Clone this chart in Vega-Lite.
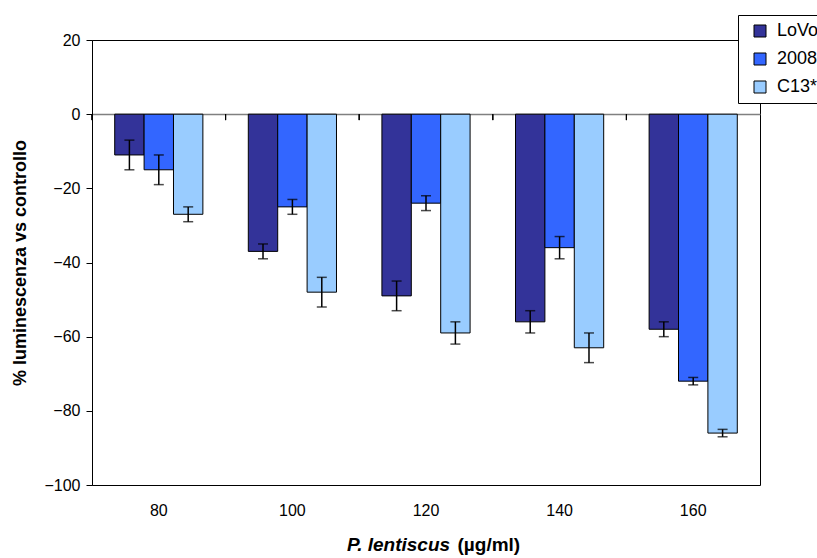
{
  "$schema": "https://vega.github.io/schema/vega-lite/v6.json",
  "width": 668,
  "height": 445,
  "autosize": {"type": "none"},
  "padding": {"left": 92, "top": 40, "right": 57, "bottom": 73},
  "background": "white",
  "config": {
    "font": "Liberation Sans",
    "view": {"stroke": "#000000", "strokeWidth": 1},
    "axis": {"grid": false, "labelColor": "#000000", "titleColor": "#000000"}
  },
  "data": {
    "values": [
      {"conc": 80, "line": "LoVo", "mean": -11, "lo": -15, "hi": -7},
      {"conc": 80, "line": "2008", "mean": -15, "lo": -19, "hi": -11},
      {"conc": 80, "line": "C13*", "mean": -27, "lo": -29, "hi": -25},
      {"conc": 100, "line": "LoVo", "mean": -37, "lo": -39, "hi": -35},
      {"conc": 100, "line": "2008", "mean": -25, "lo": -27, "hi": -23},
      {"conc": 100, "line": "C13*", "mean": -48, "lo": -52, "hi": -44},
      {"conc": 120, "line": "LoVo", "mean": -49, "lo": -53, "hi": -45},
      {"conc": 120, "line": "2008", "mean": -24, "lo": -26, "hi": -22},
      {"conc": 120, "line": "C13*", "mean": -59, "lo": -62, "hi": -56},
      {"conc": 140, "line": "LoVo", "mean": -56, "lo": -59, "hi": -53},
      {"conc": 140, "line": "2008", "mean": -36, "lo": -39, "hi": -33},
      {"conc": 140, "line": "C13*", "mean": -63, "lo": -67, "hi": -59},
      {"conc": 160, "line": "LoVo", "mean": -58, "lo": -60, "hi": -56},
      {"conc": 160, "line": "2008", "mean": -72, "lo": -73, "hi": -71},
      {"conc": 160, "line": "C13*", "mean": -86, "lo": -87, "hi": -85}
    ]
  },
  "resolve": {"axis": {"x": "independent"}},
  "layer": [
    {
      "mark": {"type": "bar", "stroke": "#000000", "strokeWidth": 1},
      "encoding": {
        "x": {
          "field": "conc", "type": "ordinal",
          "scale": {"paddingInner": 0.34, "paddingOuter": 0.17},
          "axis": {
            "orient": "bottom", "ticks": false, "domain": false,
            "labelFontSize": 16, "labelPadding": 17, "labelAngle": 0,
            "title": "P. lentiscus", "titleFontSize": 19, "titleFontWeight": "bold",
            "titleFontStyle": "italic", "titleAlign": "center", "titleBaseline": "alphabetic",
            "titleAnchor": null, "titleX": 306, "titleY": 65
          }
        },
        "xOffset": {"field": "line", "type": "nominal", "sort": ["LoVo", "2008", "C13*"], "scale": {"paddingInner": 0, "paddingOuter": 0}},
        "y": {
          "field": "mean", "type": "quantitative",
          "scale": {"domain": [-100, 20], "nice": false, "zero": false},
          "axis": {
            "values": [-100, -80, -60, -40, -20, 0, 20],
            "domainColor": "#000000", "domainWidth": 1,
            "tickColor": "#000000", "tickSize": 6, "tickWidth": 1,
            "labelFontSize": 16, "labelPadding": 6,
            "title": "% luminescenza vs controllo", "titleFontSize": 18,
            "titleFontWeight": "bold", "titlePadding": 14
          }
        },
        "color": {
          "field": "line", "type": "nominal",
          "scale": {"domain": ["LoVo", "2008", "C13*"], "range": ["#333399", "#3366FF", "#99CCFF"]},
          "legend": {
            "title": null, "orient": "none", "legendX": 646, "legendY": -25,
            "fillColor": "#FFFFFF", "strokeColor": "#000000", "padding": 7,
            "symbolType": "square", "symbolSize": 144, "symbolStrokeColor": "#000000",
            "symbolStrokeWidth": 1, "symbolOffset": 6, "labelFontSize": 18, "labelColor": "#000000",
            "labelOffset": 8, "rowPadding": 10
          }
        }
      }
    },
    {
      "mark": {"type": "rule", "strokeOpacity": 0},
      "encoding": {
        "x": {
          "field": "conc", "type": "ordinal",
          "axis": {
            "orient": "bottom", "offset": -371, "labels": false, "ticks": false,
            "domainColor": "#808080", "domainWidth": 1.5,
            "title": "(µg/ml)", "titleFontSize": 19, "titleFontWeight": "bold",
            "titleAlign": "left", "titleBaseline": "alphabetic", "titleAnchor": null,
            "titleX": 365, "titleY": 436
          }
        },
        "y": {"datum": 0},
        "y2": {"datum": 0}
      }
    },
    {
      "mark": {"type": "rule", "color": "#000000", "strokeWidth": 1},
      "encoding": {
        "x": {"field": "conc", "type": "ordinal", "bandPosition": -0.2576, "axis": null},
        "y": {"datum": 0},
        "y2": {"datum": -1.6}
      }
    },
    {
      "mark": {"type": "rule", "color": "#000000", "strokeWidth": 1.5},
      "encoding": {
        "x": {"field": "conc", "type": "ordinal", "axis": null},
        "xOffset": {"field": "line", "type": "nominal", "sort": ["LoVo", "2008", "C13*"]},
        "y": {"field": "lo", "type": "quantitative"},
        "y2": {"field": "hi"}
      }
    },
    {
      "mark": {"type": "tick", "color": "#000000", "size": 10, "thickness": 1.5},
      "encoding": {
        "x": {"field": "conc", "type": "ordinal", "axis": null},
        "xOffset": {"field": "line", "type": "nominal", "sort": ["LoVo", "2008", "C13*"]},
        "y": {"field": "lo", "type": "quantitative"}
      }
    },
    {
      "mark": {"type": "tick", "color": "#000000", "size": 10, "thickness": 1.5},
      "encoding": {
        "x": {"field": "conc", "type": "ordinal", "axis": null},
        "xOffset": {"field": "line", "type": "nominal", "sort": ["LoVo", "2008", "C13*"]},
        "y": {"field": "hi", "type": "quantitative"}
      }
    }
  ]
}
